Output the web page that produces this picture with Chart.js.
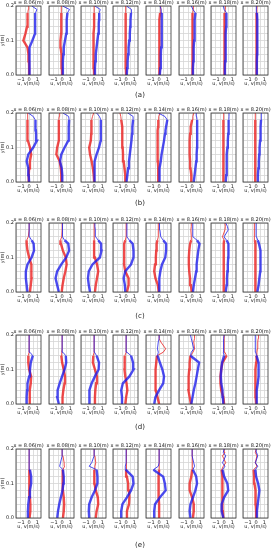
<!DOCTYPE html>
<html>
<head>
<meta charset="utf-8">
<script src="https://cdn.jsdelivr.net/npm/chart.js@4/dist/chart.umd.min.js"></script>
<style>
body { margin: 0; background: #fff; width: 271px; height: 550px; overflow: hidden; position: relative; }
canvas { position: absolute; }
.cap { position: absolute; font: 7px "DejaVu Sans"; color: #222; transform: translate(-50%, -50%); white-space: nowrap; }
</style>
</head>
<body>
<script>
// stations along the flume and vertical levels (m)
const stations = [8.06, 8.08, 8.10, 8.12, 8.14, 8.16, 8.18, 8.20];
const yLevels = [0, 0.02, 0.04, 0.06, 0.08, 0.10, 0.12, 0.14, 0.15, 0.16, 0.18, 0.19, 0.20];
const xTickVals = [-1, 0, 1];
const yTickVals = [0, 0.1, 0.2];
const panelLabels = ['(a)', '(b)', '(c)', '(d)', '(e)'];

// u (red) and v (blue) profiles, one list per station, values at yLevels
const uA = [
	[0, 0, -0.02, -0.08, -0.2, -0.7, -0.45, -0.25, -0.22, -0.2, -0.15, -0.1, -0.05],
	[0, -0.02, -0.05, -0.1, -0.18, -0.2, -0.12, -0.1, -0.1, -0.1, -0.1, -0.1, -0.1],
	[0, -0.02, -0.05, -0.08, -0.1, -0.1, -0.05, 0, 0, 0, 0, 0, 0],
	[0, -0.03, -0.05, -0.07, -0.08, -0.08, -0.06, -0.05, -0.05, -0.05, -0.05, -0.05, -0.05],
	[0, 0, 0, 0, 0.02, 0.03, 0.05, 0.05, 0.05, 0.06, 0.12, 0.2, 0.2],
	[0, 0, 0.02, 0.03, 0.04, 0.05, 0.05, 0.06, 0.06, 0.07, 0.08, 0.15, 0.15],
	[0, 0, 0.02, 0.03, 0.04, 0.05, 0.05, 0.05, 0.06, 0.06, 0.1, 0.15, 0.15],
	[0, 0.02, 0.03, 0.04, 0.05, 0.05, 0.05, 0.06, 0.06, 0.07, 0.08, 0.1, 0.12]
];
const vA = [
	[0.05, 0.05, 0.05, 0.04, 0.05, 0.4, 0.72, 0.72, 0.72, 0.72, 0.78, 0.95, 0.33],
	[0.05, 0.08, 0.1, 0.15, 0.2, 0.35, 0.5, 0.55, 0.55, 0.58, 0.65, 0.9, 0.05],
	[0.08, 0.1, 0.15, 0.2, 0.3, 0.4, 0.5, 0.55, 0.58, 0.6, 0.62, 0.75, 0.1],
	[0.08, 0.12, 0.18, 0.25, 0.3, 0.38, 0.45, 0.5, 0.52, 0.55, 0.6, 0.65, 0.05],
	[0.08, 0.15, 0.2, 0.22, 0.25, 0.28, 0.3, 0.32, 0.33, 0.35, 0.35, 0.25, 0.1],
	[0.05, 0.1, 0.15, 0.18, 0.2, 0.25, 0.28, 0.3, 0.32, 0.33, 0.4, 0.1, -0.1],
	[0.05, 0.1, 0.12, 0.15, 0.18, 0.2, 0.22, 0.25, 0.25, 0.28, 0.3, 0.0, -0.1],
	[0.05, 0.08, 0.1, 0.12, 0.13, 0.15, 0.15, 0.15, 0.15, 0.15, 0.1, 0.05, 0.0]
];
const uB = [
	[-0.05, -0.05, 0.0, 0.1, 0.25, 0.1, -0.15, -0.2, -0.2, -0.2, -0.2, -0.2, -0.15],
	[-0.1, -0.1, -0.15, -0.3, -0.7, -0.6, -0.4, -0.4, -0.4, -0.4, -0.4, -0.35, -0.3],
	[0, -0.05, -0.15, -0.3, -0.5, -0.6, -0.4, -0.35, -0.35, -0.32, -0.3, -0.2, -0.05],
	[-0.05, -0.1, -0.2, -0.3, -0.38, -0.42, -0.45, -0.45, -0.48, -0.5, -0.6, -0.65, -0.75],
	[-0.05, -0.1, -0.12, -0.15, -0.18, -0.2, -0.2, -0.18, -0.15, -0.12, -0.1, -0.05, 0.1],
	[-0.05, -0.1, -0.2, -0.25, -0.3, -0.3, -0.3, -0.25, -0.2, -0.15, 0.0, 0.1, 0.2],
	[-0.05, -0.08, -0.1, -0.1, -0.1, -0.1, -0.1, -0.1, -0.1, -0.08, -0.05, -0.05, -0.05],
	[-0.05, -0.08, -0.1, -0.1, -0.1, -0.1, -0.12, -0.12, -0.12, -0.12, -0.1, -0.1, -0.1]
];
const vB = [
	[0, -0.05, -0.1, -0.3, -0.1, 0.5, 0.95, 0.85, 0.82, 0.8, 0.75, 0.5, -0.1],
	[0.0, 0.02, -0.05, -0.25, -0.1, 0.3, 0.75, 0.8, 0.8, 0.82, 0.85, 0.8, 0.1],
	[0.0, 0.02, 0.05, 0.1, 0.3, 0.6, 0.8, 0.82, 0.82, 0.82, 0.82, 0.65, 0.3],
	[0.05, 0.15, 0.25, 0.35, 0.45, 0.55, 0.65, 0.72, 0.75, 0.78, 0.85, 0.85, 0.2],
	[0.0, 0.02, 0.08, 0.2, 0.3, 0.45, 0.6, 0.72, 0.78, 0.85, 1.0, 0.7, -0.1],
	[0.2, 0.3, 0.4, 0.5, 0.55, 0.6, 0.62, 0.62, 0.62, 0.62, 0.6, 0.55, 0.5],
	[0.2, 0.25, 0.28, 0.32, 0.35, 0.4, 0.45, 0.5, 0.52, 0.55, 0.58, 0.6, 0.6],
	[0.15, 0.22, 0.28, 0.33, 0.38, 0.42, 0.48, 0.52, 0.55, 0.57, 0.6, 0.62, 0.65]
];
const uC = [
	[0.1, 0.2, 0.3, 0.3, 0.25, 0.0, -0.2, -0.3, -0.3, -0.1, 0.0, 0.0, 0.0],
	[-0.05, 0.05, 0.2, 0.4, 0.55, 0.45, 0.1, -0.15, -0.2, -0.05, 0.0, 0.0, 0.0],
	[0.1, 0.2, 0.35, 0.5, 0.35, 0.1, 0.0, 0.0, 0.0, 0.0, 0.0, 0.0, 0.0],
	[0.1, 0.3, 0.3, -0.1, -0.25, -0.25, -0.25, -0.2, -0.1, 0.0, 0.0, 0.0, 0.0],
	[-0.05, -0.15, -0.45, -0.6, -0.5, -0.4, -0.35, -0.3, -0.2, -0.1, -0.1, -0.1, -0.1],
	[-0.05, -0.15, -0.25, -0.35, -0.4, -0.4, -0.35, -0.25, -0.1, -0.1, -0.15, -0.1, -0.1],
	[-0.05, -0.05, -0.05, -0.05, -0.05, -0.05, -0.05, -0.05, 0.0, -0.2, 0.1, 0.15, 0.1],
	[-0.05, -0.05, -0.08, -0.1, -0.1, -0.1, -0.1, -0.1, -0.15, -0.2, -0.25, -0.2, -0.2]
];
const vC = [
	[-0.2, -0.3, -0.4, -0.4, -0.2, 0.3, 0.6, 0.55, 0.3, 0.05, 0.0, 0.0, 0.0],
	[-0.4, -0.6, -0.8, -0.6, -0.1, 0.5, 0.85, 0.75, 0.3, 0.05, 0.05, 0.05, 0.05],
	[-0.5, -0.65, -0.75, -0.65, -0.2, 0.7, 0.9, 0.85, 0.5, 0.2, 0.15, 0.1, 0.1],
	[-0.1, -0.15, -0.3, -0.1, 0.6, 0.9, 0.9, 0.8, 0.4, 0.1, 0.1, 0.1, 0.1],
	[0.0, 0.0, 0.05, 0.15, 0.35, 0.75, 0.85, 0.85, 0.5, 0.2, 0.1, 0.05, 0.05],
	[0.1, 0.2, 0.35, 0.5, 0.55, 0.65, 0.75, 0.9, 0.6, 0.1, 0.05, 0.1, 0.1],
	[0.2, 0.3, 0.35, 0.4, 0.45, 0.5, 0.5, 0.55, 0.3, 0.0, 0.5, 0.4, 0.2],
	[0.15, 0.3, 0.4, 0.5, 0.55, 0.55, 0.5, 0.35, 0.2, 0.05, 0.0, 0.0, 0.0]
];
const uD = [
	[0.0, 0.05, 0.1, 0.2, 0.25, 0.0, -0.1, -0.1, 0.0, 0.0, 0.0, 0.0, 0.0],
	[0.0, 0.05, 0.15, 0.3, 0.35, 0.2, 0.0, -0.1, -0.05, 0.0, 0.0, 0.0, 0.0],
	[0.05, 0.1, 0.15, 0.25, 0.35, 0.1, -0.15, -0.1, 0.0, 0.0, 0.0, 0.0, 0.0],
	[-0.1, 0.0, 0.15, 0.05, -0.1, -0.2, -0.2, -0.15, 0.0, 0.0, 0.0, 0.0, 0.0],
	[0.0, -0.2, -0.4, -0.45, -0.45, -0.4, -0.35, -0.25, 0.5, 0.8, 0.2, 0.0, 0.0],
	[-0.15, -0.3, -0.45, -0.45, -0.4, -0.35, -0.3, -0.2, 0.1, 0.3, 0.2, 0.3, 0.3],
	[0.0, -0.1, -0.35, -0.45, -0.45, -0.35, -0.2, 0.3, 0.1, 0.0, 0.0, 0.0, 0.0],
	[0.0, -0.05, -0.1, -0.1, -0.1, -0.05, 0.0, 0.05, 0.1, 0.15, 0.2, 0.25, 0.3]
];
const vD = [
	[-0.3, -0.3, -0.25, -0.2, 0.0, 0.1, 0.2, 0.45, 0.1, 0.0, 0.0, 0.0, 0.0],
	[-0.4, -0.6, -0.55, -0.3, 0.0, 0.3, 0.5, 0.45, 0.1, 0.0, 0.0, 0.0, 0.0],
	[-0.55, -0.6, -0.55, -0.3, 0.1, 0.55, 0.6, 0.3, 0.05, 0.0, 0.0, 0.0, 0.0],
	[-0.4, -0.5, -0.6, -0.4, 0.4, 0.9, 0.85, 0.6, 0.1, 0.0, 0.0, 0.0, 0.0],
	[-0.6, -0.45, 0.0, 0.5, 0.6, 0.4, 0.1, -0.2, -0.1, -0.2, -0.1, 0.0, 0.0],
	[-0.1, 0.05, 0.2, 0.4, 0.55, 0.7, 0.85, -0.2, -0.1, 0.2, 0.0, -0.1, -0.2],
	[-0.1, -0.15, -0.2, -0.35, -0.4, -0.35, -0.25, 0.0, -0.1, -0.05, -0.1, -0.05, 0.0],
	[0.0, 0.05, 0.1, 0.2, 0.3, 0.35, 0.25, 0.05, -0.05, -0.1, -0.1, -0.1, -0.1]
];
const uE = [
	[0.05, 0.15, 0.15, 0.1, 0.05, 0.0, 0.05, 0.0, 0.0, 0.0, 0.0, 0.0, 0.0],
	[0.1, 0.2, 0.25, 0.2, 0.1, 0.05, 0.05, 0.1, 0.3, 0.25, 0.1, 0.0, 0.0],
	[0.2, 0.3, 0.5, 0.45, 0.2, 0.05, 0.0, 0.05, 0.1, 0.2, 0.1, 0.0, 0.0],
	[0.0, 0.1, 0.35, 0.4, 0.35, 0.25, 0.1, 0.0, 0.0, 0.0, 0.05, 0.05, 0.05],
	[0.0, 0.0, 0.0, -0.05, -0.05, -0.1, -0.05, 0.0, 0.0, 0.0, 0.0, 0.0, 0.0],
	[0.1, 0.2, 0.2, 0.0, -0.3, -0.3, -0.1, 0.0, 0.0, 0.05, 0.0, 0.0, 0.0],
	[-0.1, -0.15, -0.2, -0.2, -0.2, -0.2, -0.25, -0.3, -0.1, 0.2, -0.2, 0.1, 0.0],
	[0.0, 0.0, -0.05, -0.05, -0.1, -0.2, -0.25, -0.3, 0.1, -0.1, 0.1, -0.1, 0.0]
];
const vE = [
	[-0.2, -0.15, -0.1, 0.0, 0.1, 0.25, 0.25, 0.1, 0.0, 0.0, 0.0, 0.0, 0.0],
	[-0.6, -0.5, -0.35, -0.15, 0.05, 0.15, 0.2, 0.1, -0.3, -0.2, 0.0, 0.0, 0.0],
	[-0.6, -0.65, -0.6, -0.3, 0.1, 0.4, 0.4, 0.3, -0.6, -0.3, 0.0, 0.0, 0.0],
	[-0.6, -0.6, -0.45, 0.1, 0.6, 0.9, 0.8, -0.05, -0.1, 0.0, 0.0, 0.0, 0.0],
	[-0.6, -0.6, -0.5, 0.1, 0.8, 0.7, 0.5, -0.7, -0.1, 0.0, 0.0, 0.0, 0.0],
	[-0.2, -0.3, -0.2, 0.1, 0.4, 0.6, 0.5, 0.1, 0.3, 0.2, 0.0, 0.0, 0.0],
	[-0.1, -0.3, -0.3, 0.0, 0.5, 0.4, 0.0, -0.2, 0.1, -0.2, 0.2, -0.1, 0.0],
	[0.05, 0.1, 0.2, 0.3, 0.4, 0.25, 0.0, -0.1, 0.2, -0.1, 0.2, 0.05, 0.0]
];

const rowsU = [uA, uB, uC, uD, uE];
const rowsV = [vA, vB, vC, vD, vE];

// page layout (px)
const colLeft = [16, 49, 81, 113, 146, 179, 211, 243];
const rowTop = [6, 113, 223, 335, 449];
const capY = [95, 203, 316, 427, 545];
const thinAbove = [0.18, 0.18, 0.15, 0.14, 0.14];
const plotW = 25, plotH = 69;
const fontFam = '"DejaVu Sans", sans-serif';

let gridX = [];
for (let v = -1.5; v <= 1.01; v += 0.5) gridX.push(Math.round(v * 10) / 10);
let gridY = [];
for (let i = 0; i <= 10; i++) gridY.push(i / 50);

function fmtX(v) {
	return v < 0 ? '\u2212' + Math.abs(v) : String(v);
}

function makePanel(r, c) {
	let u = rowsU[r][c], v = rowsV[r][c];
	let padL = c == 0 ? 16 : 5, padR = 5, padT = 8, padB = 12;

	let cv = document.createElement('canvas');
	cv.width = plotW + padL + padR;
	cv.height = plotH + padT + padB;
	cv.style.left = (colLeft[c] - padL) + 'px';
	cv.style.top = (rowTop[r] - padT) + 'px';
	document.body.appendChild(cv);

	let thin = thinAbove[r];
	let seg = { borderWidth: ctx => (ctx.p0.parsed.y >= thin - 1e-6 ? 1 : 2.4) };

	let boxAndTitle = {
		id: 'boxAndTitle',
		afterDraw(chart) {
			let a = chart.chartArea, ctx = chart.ctx;
			ctx.save();
			ctx.strokeStyle = '#333';
			ctx.lineWidth = 0.8;
			ctx.strokeRect(a.left, a.top, a.right - a.left, a.bottom - a.top);
			ctx.fillStyle = '#111';
			ctx.font = '5px ' + fontFam;
			ctx.textAlign = 'center';
			ctx.textBaseline = 'bottom';
			ctx.fillText('x = ' + stations[c].toFixed(2) + '(m)', (a.left + a.right) / 2, a.top - 0.5);
			ctx.restore();
		}
	};

	new Chart(cv, {
		type: 'scatter',
		data: {
			datasets: [
				{
					data: yLevels.map((y, i) => ({ x: v[i], y: y })),
					borderColor: 'rgba(30, 30, 235, 0.8)',
					showLine: true, pointRadius: 0, borderWidth: 2.4, segment: seg
				},
				{
					data: yLevels.map((y, i) => ({ x: u[i], y: y })),
					borderColor: 'rgba(235, 30, 30, 0.8)',
					showLine: true, pointRadius: 0, borderWidth: 2.4, segment: seg
				}
			]
		},
		options: {
			responsive: false,
			animation: false,
			events: [],
			layout: { padding: { left: c == 0 ? 0 : padL, right: padR, top: padT, bottom: 0 } },
			plugins: { legend: { display: false }, tooltip: { enabled: false } },
			scales: {
				x: {
					type: 'linear', min: -1.6, max: 1.45,
					afterBuildTicks: s => { s.ticks = gridX.map(t => ({ value: t })); },
					afterFit: s => { s.height = padB; },
					ticks: {
						autoSkip: false, maxRotation: 0, padding: 2, color: '#222',
						font: { size: 5, family: fontFam },
						callback: t => xTickVals.includes(t) ? fmtX(t) : ''
					},
					grid: { color: '#d6d6d6', lineWidth: 0.8, drawTicks: false },
					border: { display: false },
					title: { display: true, text: 'u, v(m/s)', padding: 0, color: '#222', font: { size: 5, family: fontFam } }
				},
				y: {
					type: 'linear', min: 0, max: 0.2,
					afterBuildTicks: s => { s.ticks = gridY.map(t => ({ value: t })); },
					afterFit: s => { s.width = c == 0 ? padL : 0; },
					ticks: {
						display: c == 0, autoSkip: false, padding: 2, color: '#222',
						font: { size: 5, family: fontFam },
						callback: t => yTickVals.some(k => Math.abs(k - t) < 1e-6) ? t.toFixed(1) : ''
					},
					grid: { color: '#d6d6d6', lineWidth: 0.8, drawTicks: false },
					border: { display: false },
					title: { display: c == 0, text: 'y(m)', padding: 0, color: '#222', font: { size: 5, family: fontFam } }
				}
			}
		},
		plugins: [boxAndTitle]
	});
}

for (let r = 0; r < 5; r++) {
	for (let c = 0; c < 8; c++)
		makePanel(r, c);

	let cap = document.createElement('div');
	cap.className = 'cap';
	cap.textContent = panelLabels[r];
	cap.style.left = '140px';
	cap.style.top = capY[r] + 'px';
	document.body.appendChild(cap);
}
</script>
</body>
</html>
